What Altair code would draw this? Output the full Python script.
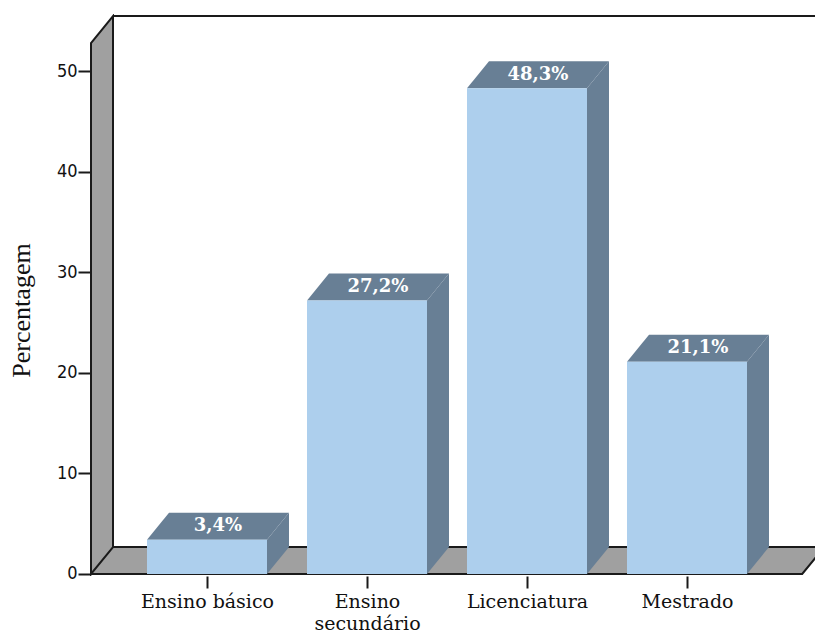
import json
import altair as alt
import pandas as pd

# Education level distribution (percent of respondents)
CATEGORY_LINES = [["Ensino básico"], ["Ensino", "secundário"], ["Licenciatura"], ["Mestrado"]]
PERCENTS = [3.4, 27.2, 48.3, 21.1]
LABELS = ["3,4%", "27,2%", "48,3%", "21,1%"]
Y_TICKS = [0, 10, 20, 30, 40, 50]
POSITIONS = [1, 2, 3, 4]

# Pseudo-3D geometry, in data units (x: category slots, y: percent)
HALF = 0.375          # half bar width
DX, DY = 0.1375, 2.68 # depth offset of the back plane
X0, XF = 0.275, 4.72  # front floor edge, left / right
YF = 52.78            # front top of the side wall
YB = YF + DY          # top of back wall
X_LO, X_HI = 0.2625, 4.8
Y_LO, Y_HI = -0.2, 55.67

FRONT = "#ADCFED"
SHADE = "#687F95"
GRAY = "#A0A0A0"
EDGE = "#1A1A1A"

xs = alt.Scale(domain=[X_LO, X_HI], nice=False, zero=False)
ys = alt.Scale(domain=[Y_LO, Y_HI], nice=False, zero=False)

label_expr = " : ".join(
    f"datum.value == {p} ? {json.dumps(lines if len(lines) > 1 else lines[0], ensure_ascii=False)}"
    for p, lines in zip(POSITIONS, CATEGORY_LINES)
) + " : ''"

x_axis = alt.Axis(
    values=POSITIONS, labelExpr=label_expr, domain=False, grid=False,
    tickSize=12, tickWidth=2, tickColor=EDGE, labelPadding=4,
    labelFont="DejaVu Serif", labelFontSize=19, labelColor="#111111",
    labelLineHeight=22, labelBaseline="top",
)
y_axis = alt.Axis(
    values=Y_TICKS, domain=False, grid=False, offset=-2,
    tickSize=13, tickWidth=2, tickColor=EDGE, labelPadding=1,
    labelFont="DejaVu Sans Condensed, Liberation Sans Narrow, DejaVu Sans",
    labelFontSize=18, labelColor="#111111",
    titleFont="Liberation Serif", titleFontSize=26, titleFontWeight="normal",
    titleColor="#111111", titlePadding=22, titleY=296,
)


def X(field):
    return alt.X(field, scale=xs, axis=x_axis, title=None)


def Y(field):
    return alt.Y(field, scale=ys, axis=y_axis, title="Percentagem")


# ---- walls and floor -------------------------------------------------------
floor = pd.DataFrame({"y": [0, DY], "x": [X0, X0 + DX], "x2": [XF, XF + DX]})
wall = pd.DataFrame({"x": [X0, X0 + DX], "y": [0, DY], "y2": [YF, YB]})

floor_layer = alt.Chart(floor).mark_area(orient="horizontal", color=GRAY, clip=True).encode(
    y=Y("y:Q"), x=X("x:Q"), x2="x2:Q",
)
wall_layer = alt.Chart(wall).mark_area(orient="vertical", color=GRAY, clip=True).encode(
    x=X("x:Q"), y=Y("y:Q"), y2="y2:Q",
)

edge_rows = []
def polyline(name, pts):
    for i, (px, py) in enumerate(pts):
        edge_rows.append({"seg": name, "ord": i, "x": px, "y": py})

polyline("wall", [(X0 + DX, DY), (X0, 0), (X0, YF), (X0 + DX, YB), (X0 + DX, DY), (XF + DX, DY)])
polyline("front", [(X0, 0), (XF, 0), (XF + DX, DY)])
polyline("top", [(X0 + DX, YB), (X_HI + 0.5, YB)])
edges = pd.DataFrame(edge_rows)

edge_layer = alt.Chart(edges).mark_line(color=EDGE, strokeWidth=2, clip=True).encode(
    x=X("x:Q"), y=Y("y:Q"), detail="seg:N", order="ord:Q",
)

# ---- bars ------------------------------------------------------------------
bars = pd.DataFrame({"pos": POSITIONS, "v": PERCENTS, "label": LABELS})
bars["left"] = bars["pos"] - HALF
bars["right"] = bars["pos"] + HALF
bars["tx"] = bars["pos"] + DX / 2
bars["ty"] = bars["v"] + DY / 2

side_rows, top_rows = [], []
for p, v in zip(POSITIONS, PERCENTS):
    side_rows += [{"bar": p, "x": p + HALF, "y": 0, "y2": v},
                  {"bar": p, "x": p + HALF + DX, "y": DY, "y2": v + DY}]
    top_rows += [{"bar": p, "y": v, "x": p - HALF, "x2": p + HALF},
                 {"bar": p, "y": v + DY, "x": p - HALF + DX, "x2": p + HALF + DX}]
sides = pd.DataFrame(side_rows)
tops = pd.DataFrame(top_rows)

side_layer = alt.Chart(sides).mark_area(orient="vertical", color=SHADE).encode(
    x=X("x:Q"), y=Y("y:Q"), y2="y2:Q", detail="bar:N",
)
top_layer = alt.Chart(tops).mark_area(orient="horizontal", color=SHADE).encode(
    y=Y("y:Q"), x=X("x:Q"), x2="x2:Q", detail="bar:N",
)

front_layer = alt.Chart(bars).mark_rect(color=FRONT).encode(
    x=X("left:Q"), x2="right:Q", y=Y("v:Q"), y2=alt.Y2(datum=0),
)

text_layer = alt.Chart(bars).mark_text(
    font="DejaVu Serif", fontWeight="bold", fontSize=18, color="white",
    baseline="middle", align="center",
).encode(
    x=X("tx:Q"), y=Y("ty:Q"), text="label:N",
)

chart = alt.layer(
    floor_layer, wall_layer, edge_layer, side_layer, top_layer, front_layer, text_layer
).properties(
    width=726, height=562,
    autosize=alt.AutoSizeParams(type="none"),
    padding={"left": 89, "top": 14, "right": 0, "bottom": 57},
    background="white",
).configure_view(stroke=None)

chart.save("out.html", embed_options={"renderer": "svg", "actions": False})
